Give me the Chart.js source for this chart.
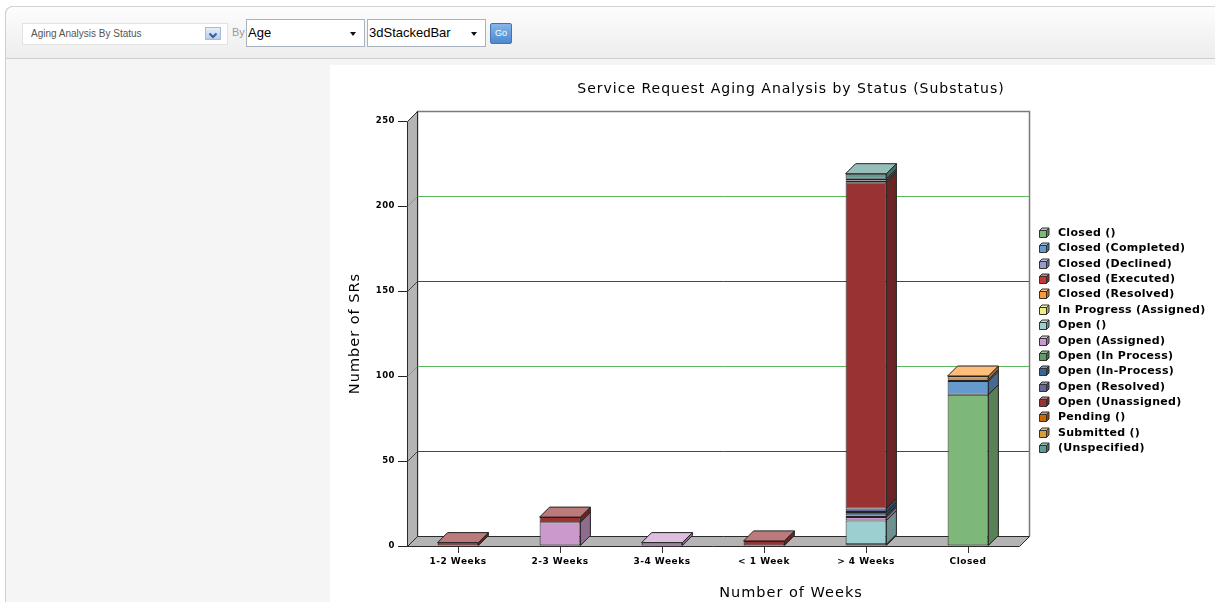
<!DOCTYPE html>
<html>
<head>
<meta charset="utf-8">
<title>Service Request Aging Analysis</title>
<script src="https://cdn.jsdelivr.net/npm/chart.js@4.4.0/dist/chart.umd.min.js"></script>
<style>
  html, body { margin: 0; padding: 0; width: 1215px; height: 602px; overflow: hidden; background: #fff;
    font-family: Arial, "Liberation Sans", sans-serif; }
  #page { position: absolute; left: 5px; top: 6px; width: 1210px; height: 596px; background: #f5f5f5;
    border-left: 1px solid #cfcfcf; border-top: 1px solid #d4d4d4; border-radius: 8px 0 0 0; }
  #toolbar { position: absolute; left: 5px; top: 6px; width: 1210px; height: 51px;
    border-top: 1px solid #d4d4d4; border-left: 1px solid #cfcfcf; border-bottom: 1px solid #cfcfcf;
    border-radius: 8px 0 0 0; background: linear-gradient(#fdfdfd, #ededed); }
  .sel { position: absolute; background: #fff; box-sizing: border-box; white-space: nowrap; }
  #report { left: 22px; top: 23px; width: 206px; height: 22px; border: 1px solid #e2e2e2;
    font-size: 10px; color: #555; line-height: 20px; padding-left: 8px; }
  #report .btn { position: absolute; left: 182px; top: 3px; width: 16px; height: 13px;
    background: linear-gradient(#e6eef9, #b9cce9); border: 1px solid #a6bbd8; box-sizing: border-box; }
  #by { position: absolute; left: 232px; top: 26px; font-size: 11px; color: #9a9a9a; }
  .drop { top: 19px; width: 119px; height: 28px; border: 1px solid #a9b3c0; font-size: 13px; color: #000;
    line-height: 26px; padding-left: 1px; }
  .drop .arr { position: absolute; right: 8px; top: 12px; width: 0; height: 0;
    border-left: 3px solid transparent; border-right: 3px solid transparent; border-top: 4px solid #111; }
  #age { left: 246px; }
  #kind { left: 367px; }
  #go { position: absolute; left: 490px; top: 23px; width: 22px; height: 21px; box-sizing: border-box;
    background: linear-gradient(#86b6ea, #4c88d0); border: 1px solid #3f74b8; border-radius: 2px;
    color: #fff; font-size: 9px; text-align: center; line-height: 19px; }
  #chartBox { position: absolute; left: 330px; top: 65px; width: 885px; height: 537px; background: #fff; }
  canvas { display: block; }
</style>
</head>
<body>
<div id="page"></div>
<div id="toolbar"></div>
<div class="sel" id="report">Aging Analysis By Status
  <div class="btn"><svg width="14" height="11" viewBox="0 0 14 11"><polyline points="3.5,3.5 7,7 10.5,3.5" fill="none" stroke="#3060a8" stroke-width="2"/></svg></div>
</div>
<div id="by">By</div>
<div class="sel drop" id="age">Age<div class="arr"></div></div>
<div class="sel drop" id="kind">3dStackedBar<div class="arr"></div></div>
<div id="go">Go</div>

<div id="chartBox"><canvas id="chart" width="885" height="537"></canvas></div>

<script>
// Age buckets shown along the x axis
const categories = ['1-2 Weeks', '2-3 Weeks', '3-4 Weeks', '< 1 Week', '> 4 Weeks', 'Closed'];

// Number of service requests per status (substatus), one value per age bucket
const closedBlank        = [0, 0, 0, 0, 0, 89];
const closedCompleted    = [0, 0, 0, 0, 0, 8];
const closedDeclined     = [0, 0, 0, 0, 0, 1];
const closedExecuted     = [0, 0, 0, 0, 0, 0];
const closedResolved     = [0, 0, 0, 0, 0, 2];
const inProgressAssigned = [0, 0, 0, 0, 1, 0];
const openBlank          = [0, 0, 0, 0, 14, 0];
const openAssigned       = [0, 14, 2, 0, 2, 0];
const openInProcess      = [0, 0, 0, 0, 1, 0];
const openInProcessDash  = [0, 0, 0, 0, 2, 0];
const openResolved       = [0, 0, 0, 0, 2, 0];
const openUnassigned     = [2, 3, 0, 3, 192, 0];
const pendingBlank       = [0, 0, 0, 0, 1, 0];
const submittedBlank     = [0, 0, 0, 0, 1, 0];
const unspecified        = [0, 0, 0, 0, 3, 0];

const seriesLabels = ['Closed ()', 'Closed (Completed)', 'Closed (Declined)', 'Closed (Executed)',
  'Closed (Resolved)', 'In Progress (Assigned)', 'Open ()', 'Open (Assigned)', 'Open (In Process)',
  'Open (In-Process)', 'Open (Resolved)', 'Open (Unassigned)', 'Pending ()', 'Submitted ()', '(Unspecified)'];
const seriesValues = [closedBlank, closedCompleted, closedDeclined, closedExecuted, closedResolved,
  inProgressAssigned, openBlank, openAssigned, openInProcess, openInProcessDash, openResolved,
  openUnassigned, pendingBlank, submittedBlank, unspecified];

// Value axis ticks
const yTicks = [0, 50, 100, 150, 200, 250];

// Face colours for each series
const seriesColors = ['#7db87a', '#6699cc', '#9999cc', '#cc3333', '#ff9933', '#eeee88', '#9ccfcf',
  '#cc99cc', '#669966', '#336699', '#666699', '#993333', '#cc6600', '#d6a033', '#5f9c94'];

const DEPTH = 10;

function mix(hex, target, t) {
  const a = parseInt(hex.slice(1), 16), b = parseInt(target.slice(1), 16);
  const ch = (v, s) => (v >> s) & 255;
  const m = s => Math.round(ch(a, s) + (ch(b, s) - ch(a, s)) * t);
  return `rgb(${m(16)},${m(8)},${m(0)})`;
}
const lighter = c => mix(c, '#ffffff', 0.35);
const darker = c => mix(c, '#000000', 0.3);

function poly(ctx, pts, fill, stroke) {
  ctx.beginPath();
  ctx.moveTo(pts[0][0], pts[0][1]);
  for (let i = 1; i < pts.length; i++) ctx.lineTo(pts[i][0], pts[i][1]);
  ctx.closePath();
  if (fill) { ctx.fillStyle = fill; ctx.fill(); }
  if (stroke) { ctx.strokeStyle = stroke; ctx.lineWidth = 1; ctx.stroke(); }
}

function gridColor(v) { return (v / 50) % 2 === 0 ? '#5cb85c' : '#3b4f3b'; }

// Walls, floor, back-wall grid lines, 3D bar faces, titles and the cube legend
const box3d = {
  id: 'box3d',
  beforeDraw(chart) {
    // slightly open tracking for the tick labels
    chart.ctx.letterSpacing = '0.5px';
  },
  beforeDatasetsDraw(chart) {
    const { ctx, chartArea: { left, right, top, bottom } } = chart;
    const ys = chart.scales.y;
    const L = Math.round(left) + 0.5, R = Math.round(right) + 0.5;
    const T = Math.round(top) + 0.5, B = Math.round(bottom) + 0.5;
    ctx.save();
    ctx.letterSpacing = '0px';
    // back wall
    poly(ctx, [[L + DEPTH, T - DEPTH], [R + DEPTH, T - DEPTH], [R + DEPTH, B - DEPTH], [L + DEPTH, B - DEPTH]], '#ffffff', null);
    yTicks.forEach(v => {
      if (v === 0 || v === 250) return;
      const py = Math.round(ys.getPixelForValue(v)) + 0.5;
      ctx.beginPath();
      ctx.moveTo(L + DEPTH, py - DEPTH);
      ctx.lineTo(R + DEPTH, py - DEPTH);
      ctx.strokeStyle = gridColor(v);
      ctx.lineWidth = 1;
      ctx.stroke();
    });
    ctx.beginPath();
    ctx.moveTo(L + DEPTH, B - DEPTH);
    ctx.lineTo(L + DEPTH, T - DEPTH);
    ctx.lineTo(R + DEPTH, T - DEPTH);
    ctx.lineTo(R + DEPTH, B - DEPTH);
    ctx.strokeStyle = '#7a7a7a';
    ctx.lineWidth = 1.5;
    ctx.stroke();
    // left wall and floor
    poly(ctx, [[L, T], [L + DEPTH, T - DEPTH], [L + DEPTH, B - DEPTH], [L, B]], '#b4b4b4', '#2a2a2a');
    poly(ctx, [[L, B], [L + DEPTH, B - DEPTH], [R + DEPTH, B - DEPTH], [R, B]], '#b4b4b4', '#2a2a2a');
    // grid runs across the side wall
    yTicks.forEach(v => {
      if (v === 0 || v === 250) return;
      const py = Math.round(ys.getPixelForValue(v)) + 0.5;
      ctx.beginPath();
      ctx.moveTo(L, py);
      ctx.lineTo(L + DEPTH, py - DEPTH);
      ctx.strokeStyle = gridColor(v);
      ctx.lineWidth = 1;
      ctx.stroke();
    });
    ctx.restore();
  },
  afterDatasetsDraw(chart) {
    const { ctx } = chart;
    ctx.save();
    categories.forEach((_, i) => {
      let topMost = -1;
      chart.data.datasets.forEach((ds, j) => { if (ds.data[i]) topMost = j; });
      chart.data.datasets.forEach((ds, j) => {
        if (!ds.data[i]) return;
        const el = chart.getDatasetMeta(j).data[i];
        const { x, y, base, width } = el.getProps(['x', 'y', 'base', 'width'], true);
        const xl = x - width / 2, xr = x + width / 2;
        const c = seriesColors[j];
        poly(ctx, [[xr, y], [xr + DEPTH, y - DEPTH], [xr + DEPTH, base - DEPTH], [xr, base]], darker(c), '#222');
        if (j === topMost) {
          poly(ctx, [[xl, y], [xl + DEPTH, y - DEPTH], [xr + DEPTH, y - DEPTH], [xr, y]], lighter(c), '#222');
        }
      });
    });
    ctx.restore();
  },
  afterDraw(chart) {
    const { ctx } = chart;
    ctx.save();
    ctx.fillStyle = '#000';
    ctx.textAlign = 'center';
    ctx.textBaseline = 'middle';
    ctx.letterSpacing = '1px';
    ctx.font = '14px "DejaVu Sans"';
    ctx.fillText('Service Request Aging Analysis by Status (Substatus)', 461, 24);
    ctx.font = '14.5px "DejaVu Sans"';
    ctx.fillText('Number of Weeks', 461, 528);
    ctx.save();
    ctx.translate(25, 268.5);
    ctx.rotate(-Math.PI / 2);
    ctx.fillText('Number of SRs', 0, 0);
    ctx.restore();

    ctx.textAlign = 'left';
    ctx.letterSpacing = '0.3px';
    ctx.font = 'bold 11px "DejaVu Sans"';
    chart.data.datasets.forEach((ds, j) => {
      const cy = Math.round(168 + j * 15.36);
      const s = 7, d = 2.5;
      const x0 = 709.5, y0 = cy - 2.5;
      const c = seriesColors[j];
      poly(ctx, [[x0, y0], [x0 + d, y0 - d], [x0 + s + d, y0 - d], [x0 + s, y0]], lighter(c), '#333');
      poly(ctx, [[x0 + s, y0], [x0 + s + d, y0 - d], [x0 + s + d, y0 + s - d], [x0 + s, y0 + s]], darker(c), '#333');
      poly(ctx, [[x0, y0], [x0 + s, y0], [x0 + s, y0 + s], [x0, y0 + s]], c, '#333');
      ctx.fillStyle = '#000';
      ctx.fillText(ds.label, 728, cy + 0.5);
    });
    ctx.restore();
  }
};

const datasets = seriesLabels.map((label, j) => ({
  label,
  data: seriesValues[j].map(v => (v === 0 ? null : v)),
  backgroundColor: seriesColors[j],
  borderColor: '#222',
  borderWidth: 1,
  borderSkipped: false
}));

new Chart(document.getElementById('chart'), {
  type: 'bar',
  data: { labels: categories, datasets },
  plugins: [box3d],
  options: {
    responsive: false,
    devicePixelRatio: 1,
    animation: false,
    layout: { padding: { left: 0, right: 196, top: 56, bottom: 0 } },
    plugins: { legend: { display: false }, tooltip: { enabled: false }, title: { display: false } },
    datasets: { bar: { categoryPercentage: 1, barPercentage: 0.4 } },
    scales: {
      x: {
        stacked: true,
        afterFit: s => { s.height = 56; },
        border: { display: false },
        grid: { drawOnChartArea: false, drawTicks: true, tickLength: 7, offset: false, color: '#333' },
        ticks: { color: '#000', padding: 3, font: { family: 'DejaVu Sans', weight: 'bold', size: 9 } }
      },
      y: {
        stacked: true,
        min: 0,
        max: 250,
        afterFit: s => { s.width = 77; },
        afterBuildTicks: s => { s.ticks = yTicks.map(v => ({ value: v })); },
        border: { display: false },
        grid: { drawOnChartArea: false, drawTicks: true, tickLength: 9, color: '#222' },
        ticks: { color: '#000', padding: 3, font: { family: 'DejaVu Sans', weight: 'bold', size: 8.5 } }
      }
    }
  }
});
</script>
</body>
</html>
